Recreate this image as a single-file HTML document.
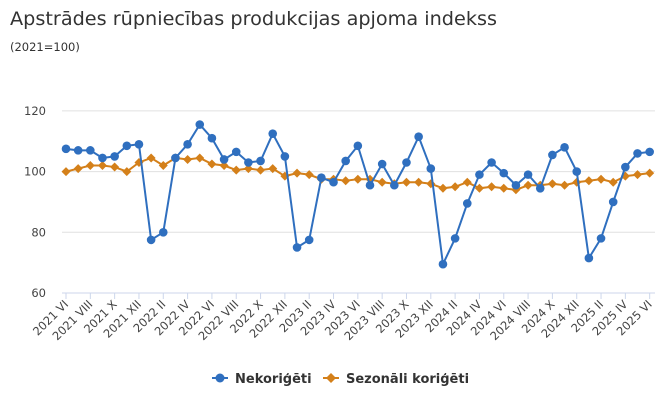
<!DOCTYPE html>
<html><head><meta charset="utf-8"><style>
body{margin:0;background:#fff;font-family:"Liberation Sans","DejaVu Sans",sans-serif;}
svg text{font-family:"DejaVu Sans","Liberation Sans",sans-serif;}
</style></head><body>
<svg id="c" width="659" height="405" xmlns="http://www.w3.org/2000/svg">
<text x="10" y="25" font-size="19" fill="#333" textLength="487" lengthAdjust="spacingAndGlyphs">Apstrādes rūpniecības produkcijas apjoma indekss</text>
<text x="10" y="51" font-size="11.5" fill="#333">(2021=100)</text>
<g id="grid"></g><g id="xax"></g><g id="series"></g>
<g>
<g>
<line x1="212" y1="378" x2="228" y2="378" stroke="#2f6fbf" stroke-width="2"/><circle cx="220" cy="378" r="4.5" fill="#2f6fbf"/>
<text x="235" y="383" font-size="13" font-weight="bold" fill="#333">Nekoriģēti</text></g>
<g>
<line x1="323" y1="378" x2="339" y2="378" stroke="#d4801a" stroke-width="2"/><path d="M331 373 L336 378 L331 383 L326 378Z" fill="#d4801a"/>
<text x="346" y="383" font-size="13" font-weight="bold" fill="#333">Sezonāli koriģēti</text></g>
</g>
</svg>
<script>
const months=["VI","VII","VIII","IX","X","XI","XII","I","II","III","IV","V"];
const nekorigeti=[107.5,107,107,104.5,105,108.5,109,77.5,80,104.5,109,115.5,111,104,106.5,103,103.5,112.5,105,75,77.5,98,96.5,103.5,108.5,95.5,102.5,95.5,103,111.5,101,69.5,78,89.5,99,103,99.5,95.5,99,94.5,105.5,108,100,71.5,78,90,101.5,106,106.5];
const sezonali=[100,101,102,102,101.5,100,103,104.5,102,104.5,104,104.5,102.5,102,100.5,101,100.5,101,98.5,99.5,99,97.5,97.5,97,97.5,97.5,96.5,96,96.5,96.5,96,94.5,95,96.5,94.5,95,94.5,94,95.5,95.5,96,95.5,96.5,97,97.5,96.5,98.5,99,99.5];
const yTicks=[60,80,100,120];
const NS="http://www.w3.org/2000/svg";
const x0=66,dx=12.16,yBase=293,yScale=60.7/20;
const X=i=>x0+i*dx, Y=v=>yBase-(v-60)*yScale;
function mk(t,a,p){const e=document.createElementNS(NS,t);for(const k in a)e.setAttribute(k,a[k]);p.appendChild(e);return e;}
const grid=document.getElementById('grid'),xax=document.getElementById('xax'),ser=document.getElementById('series');
yTicks.forEach(v=>{
 if(v>60){const l=mk('line',{x1:62,x2:655,y1:Y(v),y2:Y(v),stroke:'#e0e0e0','stroke-width':1},grid);
 
 }
 const t=mk('text',{x:46,y:Y(v)+4,'font-size':11.5,fill:'#444','text-anchor':'end'},grid);t.textContent=v;
 
 
});
const ax=mk('line',{x1:62,x2:655,y1:yBase,y2:yBase,stroke:'#ccd6eb','stroke-width':1},xax);


for(let i=0;i<nekorigeti.length;i+=2){
 const yr=2021+Math.floor((i+5)/12),lab=yr+' '+months[i%12];
 mk('line',{x1:X(i),x2:X(i),y1:yBase,y2:yBase+6,stroke:'#ccd6eb'},xax);
 const t=mk('text',{x:X(i)+3,y:yBase+12,'font-size':11.5,fill:'#444','text-anchor':'end',transform:`rotate(-45 ${X(i)+3} ${yBase+12})`},xax);
 t.textContent=lab;
 
 
}
function line(arr,col,name,marker){
 const g=mk('g',{},ser);
 
 
 mk('polyline',{points:arr.map((v,i)=>X(i)+','+Y(v)).join(' '),fill:'none',stroke:col,'stroke-width':2},g);
 arr.forEach((v,i)=>{
  let m;
  if(marker==='c')m=mk('circle',{cx:X(i),cy:Y(v),r:4.3,fill:col},g);
  else{const x=X(i),y=Y(v);m=mk('path',{d:`M${x} ${y-4.5}L${x+4.5} ${y}L${x} ${y+4.5}L${x-4.5} ${y}Z`,fill:col},g);}
  
  
 });
}
line(sezonali,'#d4801a','sezonali','d');
line(nekorigeti,'#2f6fbf','nekorigeti','c');
</script>
</body></html>
